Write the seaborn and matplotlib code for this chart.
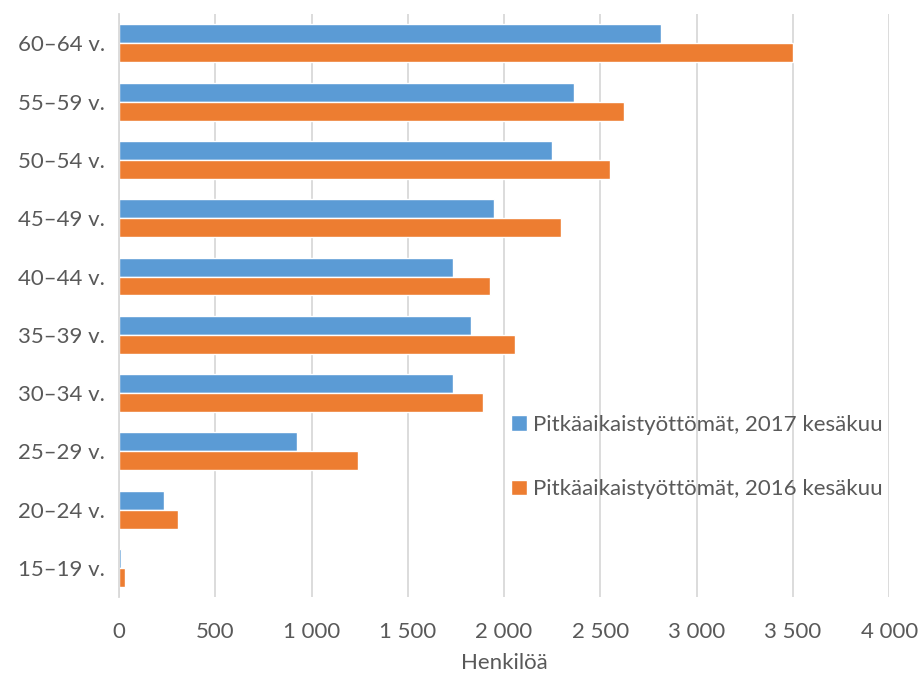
import numpy as np
import seaborn as sb
import pandas as pd
import matplotlib.pyplot as plt
from matplotlib.ticker import FuncFormatter

#data
ages = ["60–64 v.", "55–59 v.", "50–54 v.", "45–49 v.", "40–44 v.",
        "35–39 v.", "30–34 v.", "25–29 v.", "20–24 v.", "15–19 v."]
v2017 = [2816, 2364, 2249, 1948, 1735, 1829, 1735, 925, 234, 10]
v2016 = [3501, 2623, 2551, 2296, 1927, 2057, 1891, 1242, 306, 31]
lbl17 = "Pitkäaikaistyöttömät, 2017 kesäkuu"
lbl16 = "Pitkäaikaistyöttömät, 2016 kesäkuu"

df = pd.DataFrame({"ika": ages * 2,
                   "arvo": v2017 + v2016,
                   "sarja": [lbl17] * len(ages) + [lbl16] * len(ages)})

sb.set_style("white")
plt.rcParams['font.family'] = ['Lato', 'DejaVu Sans']
txt = "#595959"

fig = plt.figure(figsize=(9.19, 6.77), dpi=100)
ax = fig.add_axes([0.1295, 0.118, 0.838, 0.861])
sb.barplot(data=df, y="ika", x="arvo", hue="sarja", orient="h",
           palette=["#5b9bd5", "#ed7d31"], width=0.65, gap=0,
           order=ages, hue_order=[lbl17, lbl16], ax=ax, saturation=1)

ax.set_xlim(0, 4000)
ax.set_ylim(len(ages) - 0.5, -0.5)
ax.set_xticks(np.arange(0, 4001, 500))
ax.xaxis.set_major_formatter(FuncFormatter(lambda v, p: f"{int(v):,}".replace(",", " ")))
ax.grid(axis="x", color="#d9d9d9", linewidth=1.3)
ax.set_axisbelow(True)
for s in ["top", "right", "bottom"]:
    ax.spines[s].set_visible(False)
ax.spines["left"].set_color("#d9d9d9")
ax.spines["left"].set_linewidth(1.3)
ax.tick_params(axis="both", length=0, labelsize=16, colors=txt)
ax.tick_params(axis="x", pad=18)
ax.tick_params(axis="y", pad=10)
ax.set_ylabel("")
ax.set_xlabel("Henkilöä", fontsize=16, color=txt, labelpad=8)

ax.legend(loc="center left", bbox_to_anchor=(0.509, 0.24), frameon=False,
          fontsize=16, labelcolor=txt, handlelength=0.7, handleheight=0.7,
          handletextpad=0.3, labelspacing=2.0, borderpad=0, borderaxespad=0)

plt.savefig("out.png", dpi=100)
